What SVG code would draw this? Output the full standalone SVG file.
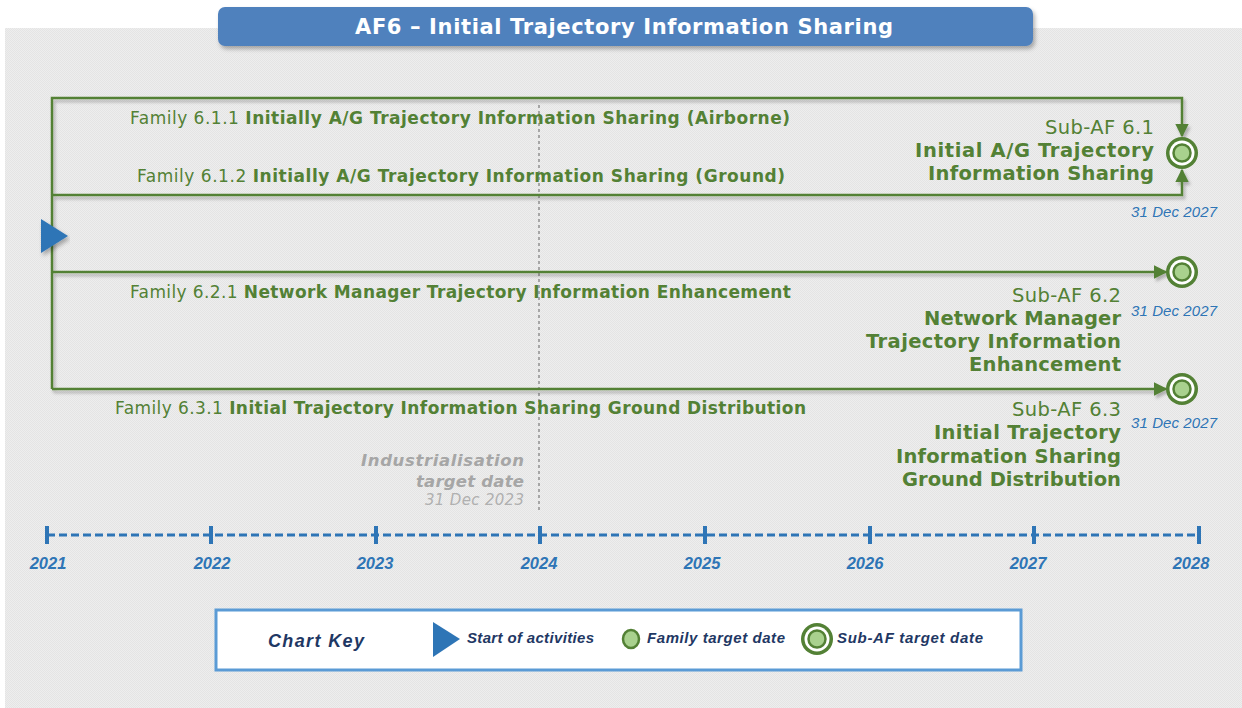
<svg xmlns="http://www.w3.org/2000/svg" width="1242" height="708" viewBox="0 0 1242 708">
<defs>
<pattern id="tex" width="2" height="2" patternUnits="userSpaceOnUse">
<rect width="2" height="2" fill="#eeeeee"/>
<rect width="1" height="1" fill="#e4e4e4"/>
<rect x="1" y="1" width="1" height="1" fill="#e4e4e4"/>
</pattern>
<filter id="sh" x="-5%" y="-20%" width="110%" height="150%">
<feDropShadow dx="2" dy="3" stdDeviation="2" flood-color="#000" flood-opacity="0.3"/>
</filter>
<filter id="lsh" x="-5%" y="-5%" width="110%" height="110%">
<feDropShadow dx="2" dy="3" stdDeviation="1.5" flood-color="#000" flood-opacity="0.25"/>
</filter>
<marker id="arr" viewBox="0 0 10 10" refX="9" refY="5" markerWidth="5.5" markerHeight="5.5" orient="auto" markerUnits="strokeWidth">
<path d="M0,0 L10,5 L0,10 z" fill="#538135"/>
</marker>
<g id="subaf">
<circle r="16" fill="#538135"/>
<circle r="12.5" fill="#ffffff"/>
<circle r="8.5" fill="#a9d18e" stroke="#538135" stroke-width="2.5"/>
</g>
</defs>
<style>
.fam{font-family:"DejaVu Sans",Verdana,sans-serif;font-size:17px;fill:#538135;text-anchor:middle}
.fam .b{font-weight:bold}
.sub{font-family:"DejaVu Sans",Verdana,sans-serif;font-size:19.5px;fill:#538135;text-anchor:end}
.sub .b{font-weight:bold}
.date{font-family:"Liberation Sans",Arial,sans-serif;font-style:italic;font-size:15px;fill:#2e75b6;text-anchor:end}
.yr{font-family:"Liberation Sans",Arial,sans-serif;font-style:italic;font-weight:bold;font-size:16.5px;fill:#2e75b6;text-anchor:middle}
.ind{font-family:"DejaVu Sans",Verdana,sans-serif;font-style:italic;font-weight:bold;font-size:16.5px;fill:#a6a6a6;text-anchor:end}
.key{font-family:"Liberation Sans",Arial,sans-serif;font-style:italic;font-weight:bold;font-size:15px;fill:#1f3864}
.gl{fill:none;stroke:#538135;stroke-width:2.5}
</style>
<rect x="0" y="0" width="1242" height="708" fill="#ffffff"/>
<rect x="5" y="28" width="1237" height="680" fill="url(#tex)"/>

<g id="title">
<rect x="218" y="7" width="815" height="39" rx="7" fill="#4f81bd" filter="url(#sh)"/>
<text x="624" y="34" font-family="DejaVu Sans,Verdana,sans-serif" font-weight="bold" font-size="21" fill="#ffffff" text-anchor="middle" textLength="538">AF6 – Initial Trajectory Information Sharing</text>
</g>

<g id="industrialisation">
<line x1="539" y1="105" x2="539" y2="512" stroke="#a6a6a6" stroke-width="2" stroke-dasharray="3,3"/>
<text class="ind" x="524" y="466" textLength="163">Industrialisation</text>
<text class="ind" x="524" y="487" textLength="108">target date</text>
<text x="524" y="505" font-family="DejaVu Sans,Verdana,sans-serif" font-style="italic" font-size="15" fill="#b0b0b0" text-anchor="end" textLength="99">31 Dec 2023</text>
</g>

<g id="connectors" filter="url(#lsh)">
<path class="gl" d="M52,389 L52,98 L1182,98 L1182,136" marker-end="url(#arr)"/>
<path class="gl" d="M52,195 L1182,195 L1182,170" marker-end="url(#arr)"/>
<path class="gl" d="M52,272 L1166,272" marker-end="url(#arr)"/>
<path class="gl" d="M52,389 L1166,389" marker-end="url(#arr)"/>
</g>

<g id="start">
<path d="M41,219 L68,236 L41,253 z" fill="#2e75b6" filter="url(#sh)"/>
</g>

<g id="family611">
<text class="fam" x="460" y="124" textLength="660">Family 6.1.1 <tspan class="b">Initially A/G Trajectory Information Sharing (Airborne)</tspan></text>
</g>
<g id="family612">
<text class="fam" x="461" y="182" textLength="648">Family 6.1.2 <tspan class="b">Initially A/G Trajectory Information Sharing (Ground)</tspan></text>
</g>
<g id="family621">
<text class="fam" x="460.5" y="298" textLength="661">Family 6.2.1 <tspan class="b">Network Manager Trajectory Information Enhancement</tspan></text>
</g>
<g id="family631">
<text class="fam" x="460.5" y="414" textLength="691">Family 6.3.1 <tspan class="b">Initial Trajectory Information Sharing Ground Distribution</tspan></text>
</g>

<g id="subaf61">
<use href="#subaf" x="1182" y="153"/>
<text class="sub" x="1154" y="134" textLength="109">Sub-AF 6.1</text>
<text class="sub" x="1154" y="157" textLength="239"><tspan class="b">Initial A/G Trajectory</tspan></text>
<text class="sub" x="1154" y="180" textLength="226"><tspan class="b">Information Sharing</tspan></text>
<text class="date" x="1217" y="217" textLength="86">31 Dec 2027</text>
</g>
<g id="subaf62">
<use href="#subaf" x="1182" y="272"/>
<text class="sub" x="1121" y="302" textLength="109">Sub-AF 6.2</text>
<text class="sub" x="1121" y="325" textLength="197"><tspan class="b">Network Manager</tspan></text>
<text class="sub" x="1121" y="348" textLength="255"><tspan class="b">Trajectory Information</tspan></text>
<text class="sub" x="1121" y="371" textLength="152"><tspan class="b">Enhancement</tspan></text>
<text class="date" x="1217" y="316" textLength="86">31 Dec 2027</text>
</g>
<g id="subaf63">
<use href="#subaf" x="1182" y="389"/>
<text class="sub" x="1121" y="416" textLength="109">Sub-AF 6.3</text>
<text class="sub" x="1121" y="439" textLength="187"><tspan class="b">Initial Trajectory</tspan></text>
<text class="sub" x="1121" y="463" textLength="225"><tspan class="b">Information Sharing</tspan></text>
<text class="sub" x="1121" y="486" textLength="219"><tspan class="b">Ground Distribution</tspan></text>
<text class="date" x="1217" y="428" textLength="86">31 Dec 2027</text>
</g>

<g id="timeline">
<line x1="47" y1="535" x2="1199" y2="535" stroke="#2e75b6" stroke-width="3" stroke-dasharray="8,4"/>
<g stroke="#2e75b6" stroke-width="4">
<line x1="47" y1="526" x2="47" y2="544"/>
<line x1="211" y1="526" x2="211" y2="544"/>
<line x1="376" y1="526" x2="376" y2="544"/>
<line x1="540" y1="526" x2="540" y2="544"/>
<line x1="705" y1="526" x2="705" y2="544"/>
<line x1="870" y1="526" x2="870" y2="544"/>
<line x1="1034" y1="526" x2="1034" y2="544"/>
<line x1="1199" y1="526" x2="1199" y2="544"/>
</g>
<text class="yr" x="48" y="569">2021</text>
<text class="yr" x="212" y="569">2022</text>
<text class="yr" x="375" y="569">2023</text>
<text class="yr" x="539" y="569">2024</text>
<text class="yr" x="702" y="569">2025</text>
<text class="yr" x="865" y="569">2026</text>
<text class="yr" x="1028" y="569">2027</text>
<text class="yr" x="1191" y="569">2028</text>
</g>

<g id="chartkey">
<rect x="216" y="610" width="805" height="60" fill="#ffffff" stroke="#5b9bd5" stroke-width="3"/>
<text class="key" x="268" y="647" style="font-size:18px" textLength="96">Chart Key</text>
<path d="M433,622 L460,639 L433,657 z" fill="#2e75b6"/>
<text class="key" x="467" y="643" textLength="127">Start of activities</text>
<ellipse cx="631" cy="639" rx="8" ry="9" fill="#a9d18e" stroke="#538135" stroke-width="2.5"/>
<text class="key" x="647" y="643" textLength="138">Family target date</text>
<use href="#subaf" x="817" y="639"/>
<text class="key" x="837" y="643" textLength="146">Sub-AF target date</text>
</g>
</svg>
